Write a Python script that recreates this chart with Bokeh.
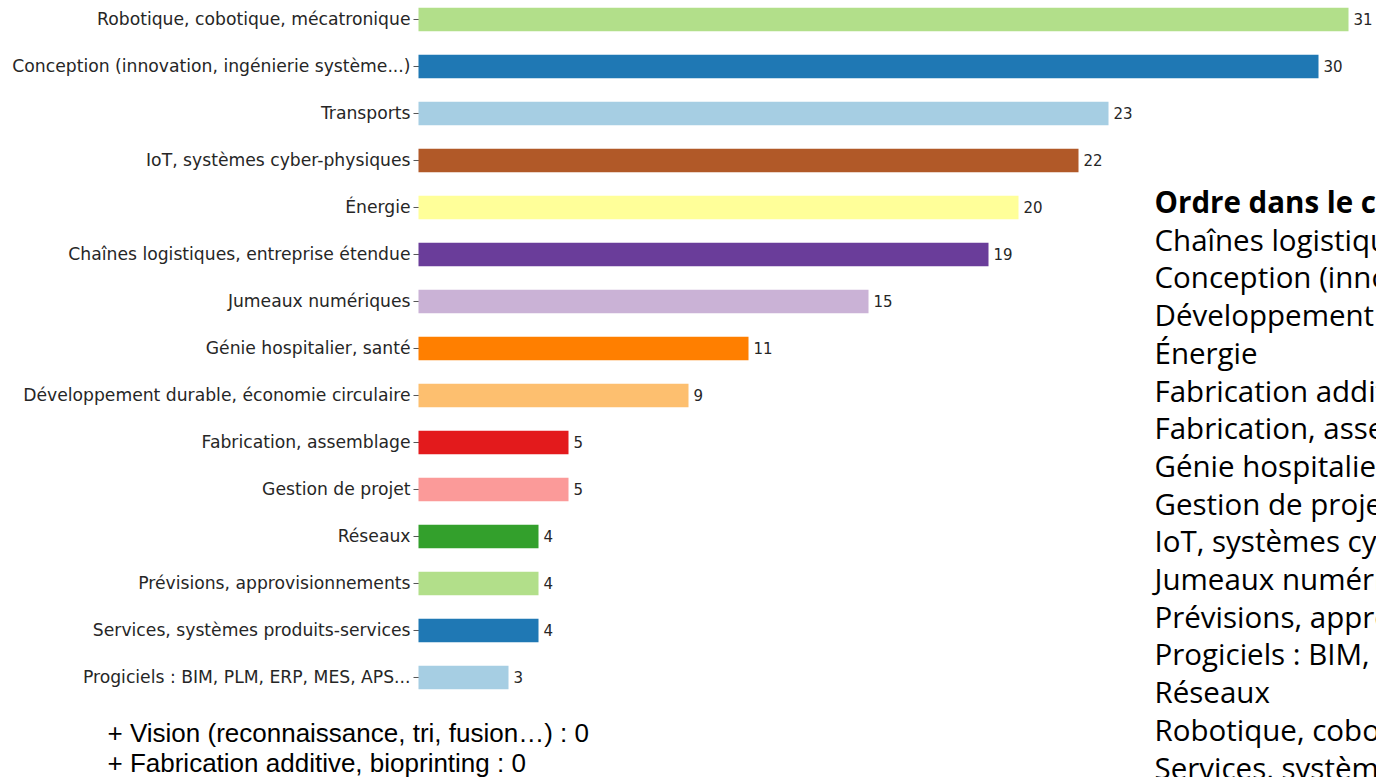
import numpy as np
from bokeh.plotting import figure
from bokeh.models import ColumnDataSource, Range1d, Label
from bokeh.core.properties import value
from bokeh.embed import file_html
from bokeh.resources import INLINE

categories = [
    "Robotique, cobotique, mécatronique",
    "Conception (innovation, ingénierie système...)",
    "Transports",
    "IoT, systèmes cyber-physiques",
    "Énergie",
    "Chaînes logistiques, entreprise étendue",
    "Jumeaux numériques",
    "Génie hospitalier, santé",
    "Développement durable, économie circulaire",
    "Fabrication, assemblage",
    "Gestion de projet",
    "Réseaux",
    "Prévisions, approvisionnements",
    "Services, systèmes produits-services",
    "Progiciels : BIM, PLM, ERP, MES, APS...",
]
counts = [31, 30, 23, 22, 20, 19, 15, 11, 9, 5, 5, 4, 4, 4, 3]
colors = ["#b2df8a", "#1f78b4", "#a6cee3", "#b15928", "#ffff99", "#6a3d9a",
          "#cab2d6", "#ff7f00", "#fdbf6f", "#e31a1c", "#fb9a99", "#33a02c",
          "#b2df8a", "#1f78b4", "#a6cee3"]

zero_notes = [
    "+ Vision (reconnaissance, tri, fusion…) : 0",
    "+ Fabrication additive, bioprinting : 0",
]

ordre_title = "Ordre dans le classement"
ordre_lines = [
    "Chaînes logistiques, entreprise étendue",
    "Conception (innovation, ingénierie système…)",
    "Développement durable, économie circulaire",
    "Énergie",
    "Fabrication additive, bioprinting",
    "Fabrication, assemblage",
    "Génie hospitalier, santé",
    "Gestion de projet",
    "IoT, systèmes cyber-physiques",
    "Jumeaux numériques",
    "Prévisions, approvisionnements",
    "Progiciels : BIM, PLM, ERP, MES, APS…",
    "Réseaux",
    "Robotique, cobotique, mécatronique",
    "Services, systèmes produits-services",
]

n = len(categories)
ypos = [n - 1 - i for i in range(n)]
src = ColumnDataSource(dict(y=ypos, v=counts, c=colors, cat=categories,
                            zero=[0] * n, lbl=[str(v) for v in counts]))

W, H = 1376, 777
PX_PER_UNIT = 30.0
ZERO_X = 418
p = figure(width=W, height=H, output_backend="svg", toolbar_location=None,
           x_range=Range1d(-ZERO_X / PX_PER_UNIT, (W - ZERO_X) / PX_PER_UNIT),
           y_range=Range1d(-2.128, 14.404),
           min_border_left=0, min_border_right=0, min_border_top=0,
           min_border_bottom=0)
p.outline_line_color = None
p.grid.visible = False
p.axis.visible = False

# category tick marks and labels (y-axis look)
p.scatter(x="zero", y="y", source=src, marker="dash", size=10,
          line_color="#555555", line_width=1)
p.text(x="zero", y="y", text="cat", source=src, x_offset=-8,
       text_baseline="middle", text_align="right",
       text_font=value("DejaVu Sans"), text_font_size="17.2px",
       text_color="#262626")

p.hbar(y="y", right="v", left="zero", height=0.5, fill_color="c",
       line_color=None, source=src)
p.text(x="v", y="y", text="lbl", source=src, x_offset=5,
       text_baseline="middle", text_align="left",
       text_font=value("DejaVu Sans"), text_font_size="15px",
       text_color="#262626")

for i, t in enumerate(zero_notes):
    p.add_layout(Label(x=107, y=H - 732 - i * 30, x_units="screen",
                       y_units="screen", text=t, text_font="Liberation Sans",
                       text_font_size="26px", text_color="#000000",
                       text_baseline="middle", text_align="left"))

sp = 37.7
top_y = H - 201
p.add_layout(Label(x=1154, y=top_y, x_units="screen", y_units="screen",
                   text=ordre_title, text_font="Open Sans",
                   text_font_style="bold", text_font_size="29.5px",
                   text_color="#000000", text_baseline="middle"))
for i, t in enumerate(ordre_lines):
    p.add_layout(Label(x=1154, y=top_y - (i + 1) * sp, x_units="screen",
                       y_units="screen", text=t, text_font="Open Sans",
                       text_font_size="29.5px", text_color="#000000",
                       text_baseline="middle"))

open("out.html", "w").write(file_html(p, INLINE))
